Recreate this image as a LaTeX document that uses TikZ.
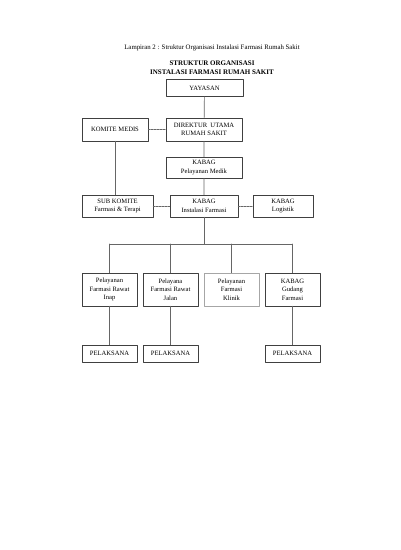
\documentclass[tikz,border=0pt]{standalone}
\usepackage{fontspec}
\setmainfont{Liberation Serif}

\tikzset{
  box/.style={draw=black!75, line width=0.6pt, align=center, inner sep=1pt,
    font=\fontsize{6.6}{8.5}\selectfont},
  link/.style={draw=black!60, line width=0.7pt},
  side/.style={link, dash pattern=on 2pt off 1pt}
}

\begin{document}
\begin{tikzpicture}[x=1pt, y=-1pt, line cap=round, line join=round]
                \useasboundingbox (0, 0) rectangle (400, 550);
                % titles
                \node (lamp) at (212, 48) {\fontsize{6.8}{8}\selectfont Lampiran 2 : Struktur Organisasi Instalasi Farmasi Rumah Sakit};
                \node[align=center, font=\fontsize{7}{9}\selectfont\bfseries] (judul) at (212, 67.5) {STRUKTUR ORGANISASI\\INSTALASI FARMASI RUMAH SAKIT};
                % upper part
                \node[box, minimum width=77, minimum height=17] (yayasan) at (204.5, 88) {YAYASAN};
                \node[box, minimum width=66, minimum height=23] (komite) at (115, 129.5) {KOMITE MEDIS};
                \node[box, minimum width=76, minimum height=23] (direktur) at (204, 129.5) {DIREKTUR\ \ UTAMA\\RUMAH SAKIT};
                \node[box, minimum width=76, minimum height=21] (medik) at (204, 167.5) {KABAG\\Pelayanan Medik};
                \node[box, minimum width=71, minimum height=22] (subkom) at (117.5, 206) {SUB KOMITE\\Farmasi \& Terapi};
                \node[box, minimum width=68, minimum height=22] (instal) at (204, 206) {KABAG\\Instalasi Farmasi};
                \node[box, minimum width=60, minimum height=22] (logistik) at (283, 206) {KABAG\\Logistik};
                % lower part
                \coordinate (bus) at (0, 244);
                \node[box, minimum width=55, minimum height=33] (inap) at (109.5, 289.5) {Pelayanan\\Farmasi Rawat\\Inap};
                \node[box, minimum width=55, minimum height=33] (jalan) at (170.5, 289.5) {Pelayana\\Farmasi Rawat\\Jalan};
                \node[box, draw=black!35, minimum width=55, minimum height=33] (klinik) at (231.5, 289.5) {Pelayanan\\Farmasi\\Klinik};
                \node[box, minimum width=55, minimum height=33] (gudang) at (292.5, 289.5) {KABAG\\Gudang\\Farmasi};
                \node[box, minimum width=55, minimum height=17] (pel1) at (109.5, 353.5) {PELAKSANA};
                \node[box, minimum width=55, minimum height=17] (pel2) at (170.5, 353.5) {PELAKSANA};
                \node[box, minimum width=55, minimum height=17] (pel3) at (292.5, 353.5) {PELAKSANA};
                % lines
                \draw[link] (yayasan) -- (direktur) -- (medik) -- (instal);
                \draw[link] (komite.south) -- (komite.south |- subkom.north);
                \draw[side] (komite) -- (direktur);
                \draw[side] (subkom) -- (instal);
                \draw[side] (instal) -- (logistik);
                \draw[link] (instal.south) -- (instal.south |- bus);
                \draw[link] (inap.north |- bus) -- (gudang.north |- bus);
                \foreach \unit in {inap, jalan, klinik, gudang}
                    \draw[link] (\unit.north |- bus) -- (\unit.north);
                \foreach \unit/\staf in {inap/pel1, jalan/pel2, gudang/pel3}
                    \draw[link] (\unit) -- (\staf);
            \end{tikzpicture}
\end{document}
